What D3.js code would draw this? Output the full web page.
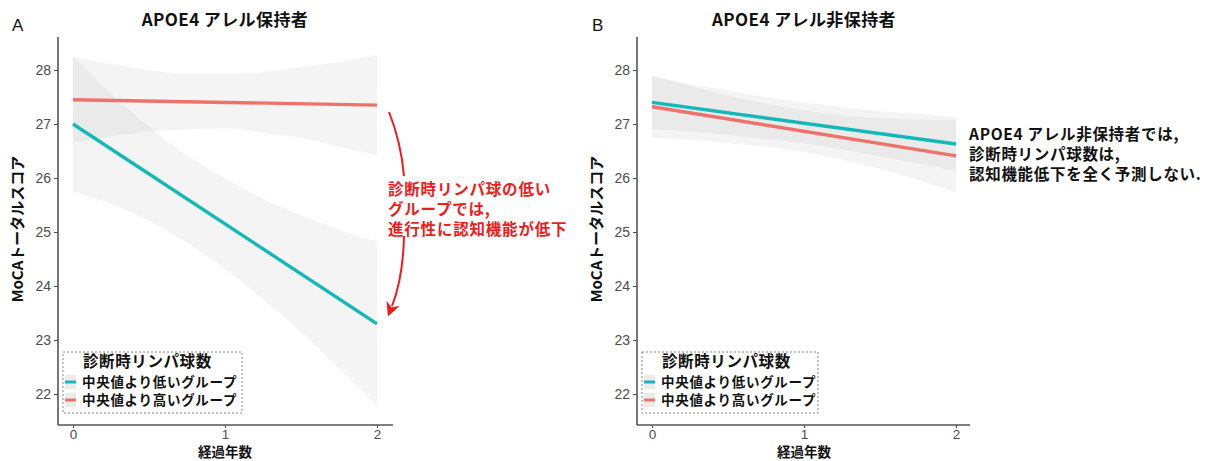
<!DOCTYPE html>
<html><head><meta charset="utf-8">
<script src="https://cdn.jsdelivr.net/npm/d3@7"></script>
<style>
html,body{margin:0;padding:0;background:#fff;}
svg{display:block;font-family:"Noto Sans CJK JP","Noto Sans",sans-serif;}
</style></head>
<body><svg id="c" width="1212" height="461"></svg>
<script>
// ---- data ----
const years = [0, 0.25, 0.5, 0.75, 1, 1.25, 1.5, 1.75, 2];
const fitYears = [0, 2];
const xTicks = [0, 1, 2];
const yTicks = [22, 23, 24, 25, 26, 27, 28];
const groups = ["中央値より低いグループ", "中央値より高いグループ"];
const legendTitle = "診断時リンパ球数";

// Panel A : APOE4 carriers
const aLowFit  = [27.0, 23.3];
const aHighFit = [27.45, 27.35];
const aLowLo  = [25.75, 25.52, 25.21, 24.80, 24.31, 23.76, 23.15, 22.48, 21.78];
const aLowHi  = [28.25, 27.56, 26.95, 26.42, 25.99, 25.62, 25.31, 25.04, 24.82];
const aHighLo = [26.65, 26.77, 26.86, 26.90, 26.92, 26.84, 26.74, 26.58, 26.42];
const aHighHi = [28.25, 28.11, 28.00, 27.93, 27.93, 27.96, 28.06, 28.15, 28.28];

// Panel B : APOE4 non-carriers
const bLowFit  = [27.40, 26.63];
const bHighFit = [27.32, 26.41];
const bLowLo  = [26.91, 26.86, 26.80, 26.72, 26.64, 26.53, 26.40, 26.27, 26.13];
const bLowHi  = [27.89, 27.74, 27.62, 27.50, 27.40, 27.31, 27.24, 27.19, 27.13];
const bHighLo = [26.74, 26.71, 26.65, 26.58, 26.48, 26.34, 26.17, 25.96, 25.74];
const bHighHi = [27.90, 27.71, 27.53, 27.38, 27.26, 27.16, 27.11, 27.08, 27.08];

const annA = ["診断時リンパ球の低い","グループでは,","進行性に認知機能が低下"];
const annB = ["APOE4 アレル非保持者では,","診断時リンパ球数は,","認知機能低下を全く予測しない."];

const colors = ["#13B8B8", "#EF716B"];

const svg = d3.select("#c");
const latin = "Liberation Sans, Arial, sans-serif";

function panel(opt){
  const g = svg.append("g");
  const x = d3.scaleLinear().domain([0,2]).range([opt.x0, opt.x2]);
  const y = d3.scaleLinear().domain([22,28]).range([394,70]);
  const axX = opt.axisX, axBottom = 425, axTop = 37, axRight = opt.axisRight;

  // ribbons
  const area = d3.area().x((d,i)=>x(years[i])).y0(d=>y(d[0])).y1(d=>y(d[1])).curve(d3.curveMonotoneX);
  opt.bands.forEach(b=>{
    g.append("path").datum(b[0].map((v,i)=>[v,b[1][i]]))
      .attr("d", area).attr("fill","#9a9a9a").attr("fill-opacity",0.11);
  });
  // lines
  const line = d3.line().x((d,i)=>x(fitYears[i])).y(d=>y(d));
  opt.fits.forEach((f,k)=>{
    g.append("path").datum(f).attr("d", line).attr("fill","none")
      .attr("stroke", colors[k]).attr("stroke-width",3.4);
  });

  // axes
  const yAxis = d3.axisLeft(y).tickValues(yTicks).tickSize(4).tickPadding(3).tickFormat(d3.format("d"));
  const ya = g.append("g").attr("transform",`translate(${axX},0)`).call(yAxis);
  ya.select(".domain").remove();
  ya.selectAll("line").attr("stroke","#4d4d4d");
  ya.selectAll("text").attr("fill","#4d4d4d").style("font-size","14px").style("font-family",latin);
  const xAxis = d3.axisBottom(x).tickValues(xTicks).tickSize(3).tickPadding(1).tickFormat(d3.format("d"));
  const xa = g.append("g").attr("transform",`translate(0,${axBottom})`).call(xAxis);
  xa.select(".domain").remove();
  xa.selectAll("line").attr("stroke","#4d4d4d");
  xa.selectAll("text").attr("fill","#4d4d4d").style("font-size","13.5px").style("font-family",latin);
  g.append("line").attr("x1",axX).attr("x2",axX).attr("y1",axTop).attr("y2",axBottom)
    .attr("stroke","#555").attr("stroke-width",1.6);
  g.append("line").attr("x1",axX).attr("x2",axRight).attr("y1",axBottom).attr("y2",axBottom)
    .attr("stroke","#555").attr("stroke-width",1.6);

  // titles
  g.append("text").attr("x",(opt.x0+opt.x2)/2).attr("y",26).attr("text-anchor","middle")
    .style("font-size","17px").style("font-weight","bold").style("letter-spacing","0.4px")
    .attr("fill","#111").text(opt.title);
  g.append("text").attr("x",opt.tagX).attr("y",31).style("font-size","17px")
    .style("font-family",latin).attr("fill","#111").text(opt.tag);
  g.append("text").attr("transform",`translate(${opt.ylabX},229) rotate(-90)`).attr("text-anchor","middle")
    .style("font-size","15px").style("font-weight","bold").attr("fill","#111").text("MoCAトータルスコア");
  g.append("text").attr("x",x(1)).attr("y",457).attr("text-anchor","middle")
    .style("font-size","13.5px").style("font-weight","bold").attr("fill","#111").text("経過年数");

  // legend
  const lx = opt.legX, lw = opt.legW;
  g.append("rect").attr("x",lx).attr("y",352).attr("width",lw).attr("height",61)
    .attr("fill","#fff").attr("stroke","#888").attr("stroke-width",1).attr("stroke-dasharray","2,2");
  g.append("text").attr("x",lx+20).attr("y",367).style("font-size","15.5px").style("font-weight","bold")
    .style("letter-spacing","0.6px").attr("fill","#111").text(legendTitle);
  groups.forEach((name,k)=>{
    const cy = 382 + k*18;
    g.append("rect").attr("x",lx+2).attr("y",cy-7).attr("width",11).attr("height",14).attr("fill","#ebebeb");
    g.append("line").attr("x1",lx+2).attr("x2",lx+13).attr("y1",cy).attr("y2",cy)
      .attr("stroke",colors[k]).attr("stroke-width",3);
    g.append("text").attr("x",lx+19).attr("y",cy+5).style("font-size","13.5px").style("font-weight","bold")
      .style("letter-spacing","0.7px").attr("fill","#111").text(name);
  });
  return {g,x,y};
}

panel({x0:73, x2:377, axisX:58, axisRight:393, title:"APOE4 アレル保持者", tag:"A", tagX:12, ylabX:23,
  legX:63, legW:179, bands:[[aLowLo,aLowHi],[aHighLo,aHighHi]], fits:[aLowFit,aHighFit]});
panel({x0:652, x2:956, axisX:637, axisRight:970, title:"APOE4 アレル非保持者", tag:"B", tagX:592, ylabX:602,
  legX:642, legW:176, bands:[[bLowLo,bLowHi],[bHighLo,bHighHi]], fits:[bLowFit,bHighFit]});

// annotation A
const red = "#EE1C1C";
const defs = svg.append("defs");
defs.append("marker").attr("id","ah").attr("viewBox","0 0 10 10").attr("refX",2).attr("refY",5)
  .attr("markerWidth",7).attr("markerHeight",7).attr("orient","auto-start-reverse")
  .append("path").attr("d","M0,0 L10,5 L0,10 L3,5 Z").attr("fill",red);
svg.append("path").attr("d","M389,112 Q401,142 404,176").attr("fill","none").attr("stroke",red).attr("stroke-width",2);
svg.append("path").attr("d","M404,236 Q403,278 392,306").attr("fill","none").attr("stroke",red).attr("stroke-width",2)
  .attr("marker-end","url(#ah)");
const tA = svg.append("text").attr("x",388).attr("y",195).style("font-size","15.5px")
  .style("font-weight","bold").style("letter-spacing","0.8px").attr("fill",red);
annA.forEach((t,i)=>tA.append("tspan").attr("x",388).attr("y",195+i*20).text(t));

// annotation B
const tB = svg.append("text").attr("x",969).attr("y",140).style("font-size","15.5px")
  .style("font-weight","bold").style("letter-spacing","0.7px").attr("fill","#111");
annB.forEach((t,i)=>tB.append("tspan").attr("x",969).attr("y",140+i*20).text(t));
</script></body></html>
